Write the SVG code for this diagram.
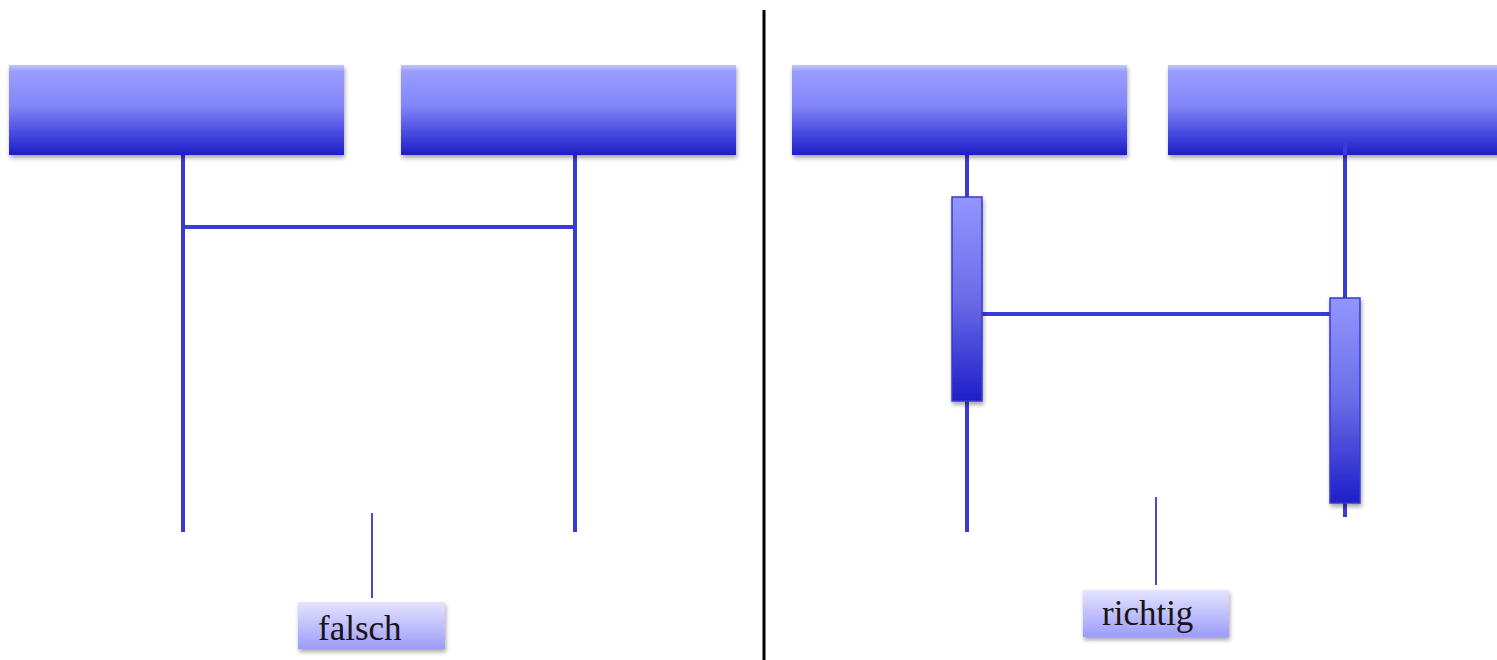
<svg xmlns="http://www.w3.org/2000/svg" width="1497" height="660" viewBox="0 0 1497 660">
<defs>
<linearGradient id="gHead" x1="0" y1="0" x2="0" y2="1">
<stop offset="0" stop-color="#c4c6ff"/>
<stop offset="0.07" stop-color="#9a9dff"/>
<stop offset="0.45" stop-color="#8286f8"/>
<stop offset="0.75" stop-color="#4a4ce0"/>
<stop offset="1" stop-color="#1e1ec8"/>
</linearGradient>
<linearGradient id="gAct" x1="0" y1="0" x2="0" y2="1">
<stop offset="0" stop-color="#9396ff"/>
<stop offset="0.5" stop-color="#6a6ce8"/>
<stop offset="1" stop-color="#1e1ec8"/>
</linearGradient>
<linearGradient id="gLab" x1="0" y1="0" x2="0" y2="1">
<stop offset="0" stop-color="#e4e4ff"/>
<stop offset="1" stop-color="#9c9cfa"/>
</linearGradient>
<filter id="sh" x="-10%" y="-10%" width="130%" height="140%">
<feDropShadow dx="1" dy="3" stdDeviation="2" flood-color="#000" flood-opacity="0.35"/>
</filter>
</defs>
<style>
.head{fill:url(#gHead);filter:url(#sh)}
.act{fill:url(#gAct);stroke:#3a3ad0;stroke-width:1.5;filter:url(#sh)}
.life{stroke:#3b3bd4;stroke-width:4;fill:none}
.msg{stroke:#3b3bd4;stroke-width:4;fill:none}
.lab{fill:url(#gLab);filter:url(#sh)}
.labline{stroke:#4a4ad0;stroke-width:2}
.txt{font-family:"Liberation Serif",serif;font-size:35px;fill:#1a1414}
</style>
<rect width="1497" height="660" fill="#ffffff"/>
<line x1="764" y1="10" x2="764" y2="660" stroke="#000" stroke-width="3"/>
<g id="connectors">
<line class="life" x1="183" y1="155" x2="183" y2="532"/>
<line class="life" x1="575" y1="155" x2="575" y2="532"/>
<line class="msg" x1="183" y1="227" x2="575" y2="227"/>
<line class="life" x1="967" y1="155" x2="967" y2="532"/>
<line class="life" x1="1345" y1="140" x2="1345" y2="517"/>
<line class="msg" x1="982" y1="314" x2="1330" y2="314"/>
</g>
<g id="objA"><rect class="head" x="9" y="65" width="335" height="90"/></g>
<g id="objB"><rect class="head" x="401" y="65" width="335" height="90"/></g>
<g id="objC"><rect class="head" x="792" y="65" width="335" height="90"/></g>
<g id="objD"><rect class="head" x="1168" y="65" width="335" height="90"/></g>
<line class="life" x1="1345" y1="140" x2="1345" y2="155"/>
<g id="actC"><rect class="act" x="952" y="197" width="30" height="204"/></g>
<g id="actD"><rect class="act" x="1330" y="298" width="30" height="205"/></g>
<g id="labFalsch">
<line class="labline" x1="372" y1="513" x2="372" y2="598"/>
<rect class="lab" x="298" y="602" width="147" height="47"/>
<text class="txt" x="318" y="640">falsch</text>
</g>
<g id="labRichtig">
<line class="labline" x1="1156" y1="497" x2="1156" y2="585"/>
<rect class="lab" x="1083" y="590" width="146" height="47"/>
<text class="txt" x="1102" y="625">richtig</text>
</g>
</svg>
